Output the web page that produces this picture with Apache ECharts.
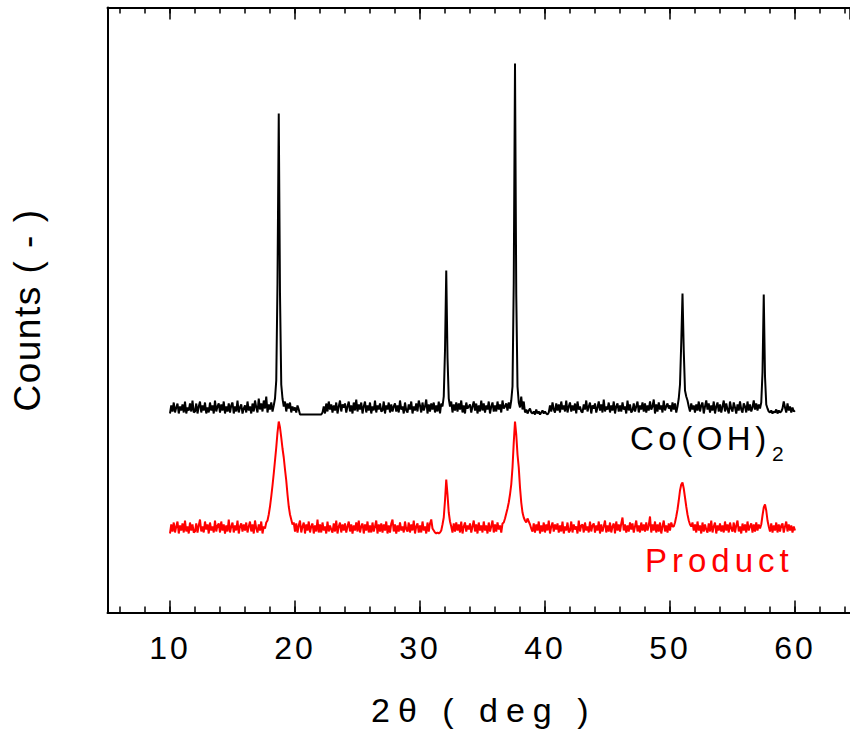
<!DOCTYPE html>
<html>
<head>
<meta charset="utf-8">
<title>XRD patterns</title>
<script src="https://cdn.jsdelivr.net/npm/echarts@6/dist/echarts.min.js"></script>
<style>
  html, body { margin: 0; padding: 0; background: #fff; }
  #chart { width: 850px; height: 742px; }
</style>
</head>
<body>
<div id="chart"></div>
<script>
// Scan grid: 2θ from 10° to 60° in 0.1° steps (501 points)
const SCAN_START = 10;
const SCAN_STEP = 0.1;
const SCAN_POINTS = 501;

// Co(OH)2 reference pattern (offset upward), one row per degree
const cobaltHydroxide = [
  199,207,201,210,200,205,209,199,206,202,
  208,200,211,199,205,202,209,201,212,200,
  201,209,199,206,211,200,207,202,210,199,
  205,200,210,202,207,199,212,201,206,209,
  200,208,202,211,199,206,201,209,200,207,
  210,199,206,201,212,200,205,208,199,204,
  207,200,211,202,206,199,209,201,212,205,
  200,214,203,209,201,212,204,216,200,208,
  203,210,201,207,214,232,330,499,318,228,
  214,206,211,201,209,204,210,200,206,202,
  205,200,207,203,198,198,198,198,198,198,
  198,198,198,198,198,198,198,198,198,198,
  198,198,200,206,199,209,201,211,203,208,
  200,207,202,210,199,206,212,201,208,205,
  209,200,206,211,201,207,199,210,202,213,
  201,208,203,210,199,206,211,200,207,202,
  210,199,206,202,212,200,207,203,209,201,
  202,211,199,207,203,210,200,208,201,206,
  209,201,207,200,212,203,206,199,210,202,
  200,208,203,211,199,206,202,209,201,212,
  207,200,210,202,206,213,199,208,201,209,
  203,210,200,207,201,211,199,209,206,216,
  262,342,255,214,206,211,200,208,202,210,
  201,209,203,212,200,207,199,210,204,206,
  208,200,206,211,202,209,199,207,201,212,
  202,209,200,207,203,211,199,206,210,201,
  207,201,211,203,208,200,212,204,206,209,
  202,210,204,212,226,330,549,318,226,210,
  205,216,203,211,200,203,199,202,204,200,
  199,201,198,203,199,201,198,200,202,199,
  201,199,198,200,207,201,210,203,200,209,
  202,208,200,211,203,207,201,212,200,206,
  210,201,207,202,209,199,211,203,206,201,
  200,208,203,212,201,206,210,199,207,204,
  209,200,205,211,202,208,200,213,201,206,
  203,210,200,207,202,211,199,206,209,201,
  207,201,210,203,206,199,212,202,208,200,
  202,209,201,206,211,200,207,203,210,201,
  209,200,207,202,211,203,206,213,199,208,
  201,210,203,207,200,212,202,206,209,204,
  207,201,210,203,209,200,206,214,228,270,
  319,262,222,216,212,206,201,209,203,207,
  200,208,202,211,201,207,210,199,206,212,
  203,209,200,207,202,211,199,206,210,201,
  208,200,206,212,201,209,203,199,211,204,
  201,210,205,199,208,202,211,203,200,209,
  206,200,211,202,208,201,205,212,203,209,
  202,208,204,210,240,318,236,208,204,201,
  200,202,199,201,200,203,199,202,200,201,
  204,211,205,200,209,202,206,200,205,201,
  202
];

// Product pattern, one row per degree
const product = [
  79,88,81,90,80,86,91,79,87,82,
  89,80,92,81,86,79,90,82,88,80,
  81,89,80,87,93,81,86,80,91,83,
  88,79,90,82,86,80,92,81,87,89,
  80,91,82,88,79,87,81,93,80,86,
  90,80,87,82,92,79,86,89,81,88,
  82,90,80,86,91,81,88,79,92,84,
  80,88,82,91,79,86,84,90,92,98,
  106,116,127,139,152,165,180,191,185,175,
  164,155,143,132,118,106,98,93,88,90,
  81,89,80,87,92,80,86,90,79,88,
  82,91,80,86,89,79,87,81,93,80,
  88,80,90,82,86,79,91,81,87,83,
  80,89,81,92,79,86,90,80,88,82,
  89,80,86,91,81,88,79,87,82,90,
  81,92,80,86,89,79,88,82,91,80,
  87,80,90,81,86,92,79,88,81,89,
  80,88,82,91,79,87,80,89,93,81,
  88,79,87,81,90,82,86,80,91,83,
  81,90,80,88,82,92,79,86,89,80,
  87,80,91,82,86,79,90,81,89,93,
  84,82,80,79,80,79,80,82,88,95,
  112,133,118,100,91,86,80,89,81,90,
  82,88,80,91,79,86,90,81,87,83,
  89,80,86,92,81,88,79,90,82,87,
  80,91,82,87,79,90,81,86,92,80,
  88,81,90,83,87,80,89,90,94,99,
  104,110,118,128,145,170,191,178,158,145,
  125,110,100,95,92,90,94,91,88,84,
  81,89,80,88,82,91,79,87,81,90,
  80,88,82,92,79,86,90,81,88,83,
  89,80,87,81,91,79,86,82,90,80,
  82,91,80,88,83,86,79,92,81,87,
  88,80,90,82,86,80,91,81,87,89,
  80,87,82,91,79,88,81,86,92,80,
  87,81,90,80,86,89,79,91,82,88,
  81,89,95,82,88,80,87,81,90,83,
  89,80,86,92,81,87,80,90,82,88,
  81,90,82,87,96,80,88,82,91,80,
  88,81,90,79,86,92,81,87,80,89,
  82,90,86,86,90,96,103,112,122,128,
  130,124,115,106,98,92,88,86,90,82,
  88,80,91,82,87,79,90,81,88,83,
  80,89,81,92,80,86,90,79,87,82,
  89,81,87,80,91,82,88,80,90,84,
  81,90,80,87,92,81,86,79,89,82,
  88,80,91,82,86,89,80,88,81,90,
  82,88,84,88,97,105,108,102,92,86,
  81,89,80,87,82,90,80,88,81,87,
  89,80,86,91,81,88,82,87,80,86,
  82
];

// Axis settings
const xRange = [5, 64.4];
const yRange = [0, 605];
const minorTickRange = [6, 64];
const minorTickStep = 2;

const twoTheta = [];
for (let i = 0; i < SCAN_POINTS; i++) {
  twoTheta.push(+(SCAN_START + i * SCAN_STEP).toFixed(1));
}
const pairs = (ys) => ys.map((y, i) => [twoTheta[i], y]);

const FONT = '"Liberation Sans", Arial, Helvetica, sans-serif';
const chart = echarts.init(document.getElementById('chart'), null, { renderer: 'svg' });

const majorTick = { show: true, inside: true, length: 12, lineStyle: { color: '#000', width: 1.5 } };
const minorTick = { show: true, inside: true, length: 6, lineStyle: { color: '#000', width: 1.5 } };

chart.setOption({
  animation: false,
  backgroundColor: '#fff',
  grid: [
    { left: 107.5, right: 0, top: 7.5, bottom: 129.5 },
    { left: 120, right: 5, top: 7.5, bottom: 129.5 }
  ],
  xAxis: [
    {
      type: 'value', gridIndex: 0, position: 'bottom',
      min: xRange[0], max: xRange[1], splitNumber: 6,
      axisLine: { show: true, onZero: false, lineStyle: { color: '#000', width: 2 } },
      axisTick: majorTick,
      splitLine: { show: false },
      axisLabel: {
        show: true, showMinLabel: false, showMaxLabel: false,
        color: '#000', fontSize: 32, fontFamily: FONT, margin: 19
      },
      name: '2θ ( deg )', nameLocation: 'middle', nameGap: 80,
      nameTextStyle: { color: '#000', fontSize: 34, fontFamily: FONT, padding: [0, 0, 0, 10] }
    },
    {
      type: 'value', gridIndex: 0, position: 'top',
      min: xRange[0], max: xRange[1], splitNumber: 6,
      axisLine: { show: true, onZero: false, lineStyle: { color: '#000', width: 2 } },
      axisTick: majorTick,
      splitLine: { show: false },
      axisLabel: { show: false }
    },
    {
      type: 'value', gridIndex: 1, position: 'bottom',
      min: minorTickRange[0], max: minorTickRange[1], interval: minorTickStep,
      axisLine: { show: false }, axisTick: minorTick,
      splitLine: { show: false }, axisLabel: { show: false }
    },
    {
      type: 'value', gridIndex: 1, position: 'top',
      min: minorTickRange[0], max: minorTickRange[1], interval: minorTickStep,
      axisLine: { show: false }, axisTick: minorTick,
      splitLine: { show: false }, axisLabel: { show: false }
    }
  ],
  yAxis: [
    {
      type: 'value', gridIndex: 0, min: yRange[0], max: yRange[1],
      axisLine: { show: true, onZero: false, lineStyle: { color: '#000', width: 2 } },
      axisTick: { show: false }, axisLabel: { show: false }, splitLine: { show: false },
      name: 'Counts ( - )', nameLocation: 'middle', nameGap: 62, nameRotate: 90,
      nameTextStyle: { color: '#000', fontSize: 37, fontFamily: FONT }
    },
    {
      type: 'value', gridIndex: 1, min: yRange[0], max: yRange[1], show: false
    }
  ],
  series: [
    {
      name: 'Co(OH)2', type: 'line', xAxisIndex: 0, yAxisIndex: 0,
      data: pairs(cobaltHydroxide), showSymbol: false, symbol: 'none',
      lineStyle: { color: '#000', width: 2 }, z: 3
    },
    {
      name: 'Product', type: 'line', xAxisIndex: 0, yAxisIndex: 0,
      data: pairs(product), showSymbol: false, symbol: 'none',
      lineStyle: { color: '#ff0000', width: 2 }, z: 2
    }
  ],
  graphic: [
    {
      type: 'text', left: 630, top: 422,
      style: { text: 'Co(OH)', fill: '#000', font: '33px ' + FONT }
    },
    {
      type: 'text', left: 772, top: 443,
      style: { text: '2', fill: '#000', font: '21px ' + FONT }
    },
    {
      type: 'text', left: 645, top: 544,
      style: { text: 'Product', fill: '#ff0000', font: '33px ' + FONT }
    }
  ]
});

// Wide letter spacing of the plotting package's text
const spacing = {
  '2θ ( deg )': '8px',
  'Counts ( - )': '1.5px',
  'Co(OH)': '4.5px',
  'Product': '5px'
};
function applySpacing() {
  document.querySelectorAll('#chart svg text').forEach((t) => {
    const txt = t.textContent;
    if (spacing[txt]) t.style.letterSpacing = spacing[txt];
    else if (/^\d\d$/.test(txt)) t.style.letterSpacing = '3px';
  });
}
chart.on('finished', applySpacing);
applySpacing();
</script>
</body>
</html>
